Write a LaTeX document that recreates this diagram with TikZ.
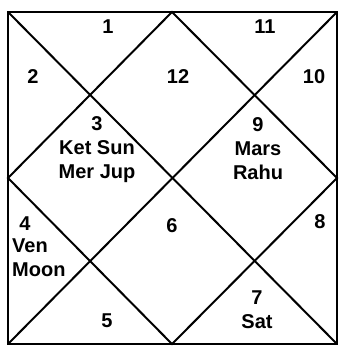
\documentclass[tikz,border=0pt]{standalone}
\usepackage{fontspec}
\setmainfont{Liberation Sans}
\usetikzlibrary{positioning}

\tikzset{
  house/.style={font=\bfseries\fontsize{20}{24}\selectfont, inner sep=0pt, align=center},
  chartline/.style={line width=2pt, black}
}

\begin{document}
\begin{tikzpicture}[x=1pt, y=-1pt]
    \useasboundingbox (0,0) rectangle (339,347);
    % Ecken und Mitten
    \coordinate (tl) at (8,12);
    \coordinate (tr) at (337,12);
    \coordinate (bl) at (8,344);
    \coordinate (br) at (337,344);
    \coordinate (tm) at (172,12);
    \coordinate (rm) at (337,178);
    \coordinate (bm) at (172,344);
    \coordinate (lm) at (8,178);
    % Rahmen, Diagonalen, Raute
    \draw[chartline, line width=2.6pt] (tl) -- (tr) -- (br) -- (bl) -- cycle;
    \draw[chartline] (tl) -- (br);
    \draw[chartline] (tr) -- (bl);
    \draw[chartline] (tm) -- (rm) -- (bm) -- (lm) -- cycle;
    % Haeuser
    \node[house] (h1) at (108,27) {1};
    \node[house] (h11) at (265,27) {11};
    \node[house] (h2) at (33,77) {2};
    \node[house] (h12) at (178,77) {12};
    \node[house] (h10) at (314,77) {10};
    \node[house] (h3) at (97,150) {3\\Ket Sun\\Mer Jup};
    \node[house] (h9) at (258,149) {9\\Mars\\Rahu};
    \node[house] (h4) at (25,224) {4};
    \node[house, align=left, anchor=north west] (p4) at (12,239) {Ven\\Moon};
    \node[house] (h6) at (172,226) {6};
    \node[house] (h8) at (320,222) {8};
    \node[house] (h5) at (107,321) {5};
    \node[house] (h7) at (257,310) {7\\Sat};
\end{tikzpicture}
\end{document}
